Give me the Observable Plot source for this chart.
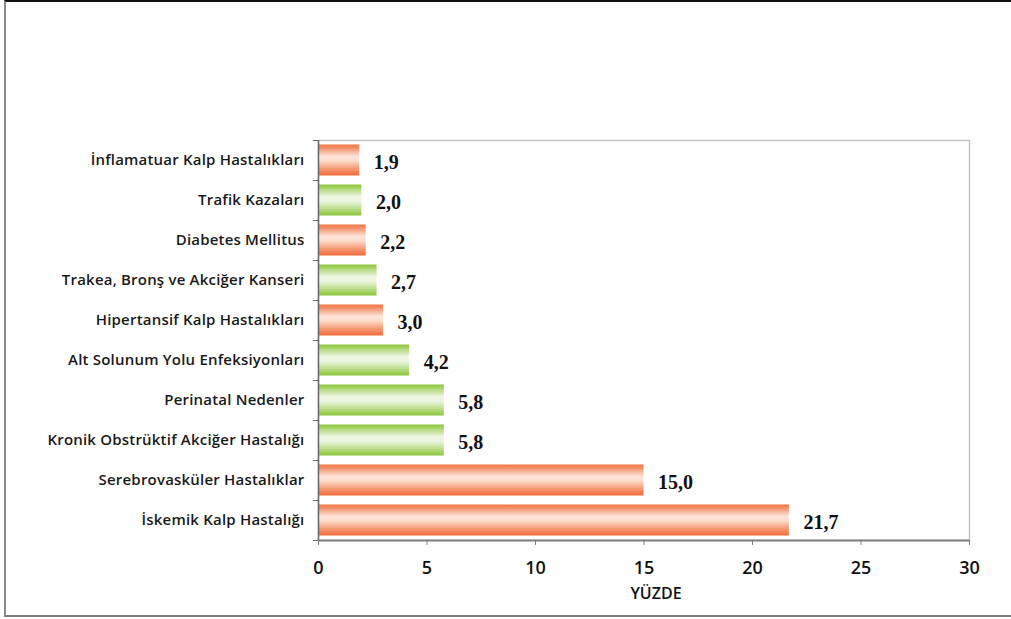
<!DOCTYPE html>
<html lang="tr">
<head>
<meta charset="utf-8">
<script src="https://cdn.jsdelivr.net/npm/d3@7"></script>
<script src="https://cdn.jsdelivr.net/npm/@observablehq/plot@0.6"></script>
<style>
  html, body { margin: 0; padding: 0; background: #fff; }
  #wrap { position: relative; width: 1011px; height: 619px; overflow: hidden; }
  #border {
    position: absolute; left: 4px; top: 0; width: 1020px; height: 613px;
    border-top: 2px solid #111; border-left: 2px solid #8a8a8a; border-bottom: 2px solid #7a7a7a;
    pointer-events: none;
  }
  #chart svg { display: block; }
  #chart g[aria-label="y-axis tick label"] text { font-weight: 600; letter-spacing: 0.2px; }
  #chart g[aria-label="x-axis tick label"] text { font-weight: 600; }
</style>
</head>
<body>
<div id="wrap">
  <div id="chart"></div>
  <div id="border"></div>
</div>
<script>
// Ölüm nedenleri, yüzde
const causes = [
  "İnflamatuar Kalp Hastalıkları",
  "Trafik Kazaları",
  "Diabetes Mellitus",
  "Trakea, Bronş ve Akciğer Kanseri",
  "Hipertansif Kalp Hastalıkları",
  "Alt Solunum Yolu Enfeksiyonları",
  "Perinatal Nedenler",
  "Kronik Obstrüktif Akciğer Hastalığı",
  "Serebrovasküler Hastalıklar",
  "İskemik Kalp Hastalığı"
];
const percents = [1.9, 2.0, 2.2, 2.7, 3.0, 4.2, 5.8, 5.8, 15.0, 21.7];
const groups = ["o", "g", "o", "g", "o", "g", "g", "g", "o", "o"];
const xTicks = [0, 5, 10, 15, 20, 25, 30];
const axisTitle = "YÜZDE";

const rows = causes.map((name, i) => ({ name, value: percents[i], group: groups[i] }));
const fmt = v => v.toFixed(1).replace(".", ",");

const chart = Plot.plot({
  width: 1011,
  height: 619,
  marginLeft: 318,
  marginRight: 42,
  marginTop: 140,
  marginBottom: 79,
  style: { fontFamily: "'Open Sans', sans-serif", fontSize: "15px", color: "#1a1a1a", background: "transparent" },
  x: { domain: [0, 30], ticks: xTicks, label: null },
  y: { domain: causes, padding: 0, label: null },
  marks: [
    Plot.frame({ stroke: "#c4c4c4", strokeWidth: 1.5 }),
    Plot.barX(rows.filter(d => d.group === "o"), {
      x: "value", y: "name", fill: "url(#gradOrange)", insetTop: 4.5, insetBottom: 4.5
    }),
    Plot.barX(rows.filter(d => d.group === "g"), {
      x: "value", y: "name", fill: "url(#gradGreen)", insetTop: 4.5, insetBottom: 4.5
    }),
    Plot.text(rows, {
      x: "value", y: "name", text: d => fmt(d.value), dx: 14, dy: 2,
      textAnchor: "start", fontFamily: "'Liberation Serif', 'Times New Roman', serif",
      fontWeight: "bold", fontSize: 20, fill: "#111"
    }),
    Plot.ruleX([0], { stroke: "#6a6a6a", strokeWidth: 1.5 }),
    Plot.ruleY([causes[causes.length - 1]], { dy: 20, stroke: "#7f7f7f", strokeWidth: 2 }),
    Plot.axisY({ tickSize: 0, tickPadding: 14, fontSize: 15, fill: "#1a1a1a", label: null }),
    Plot.axisY({ tickSize: 5, tickFormat: () => "", dy: 20, stroke: "#6a6a6a", label: null }),
    Plot.axisY({ ticks: [causes[0]], tickSize: 5, tickFormat: () => "", dy: -20, stroke: "#6a6a6a", label: null }),
    Plot.axisX({ ticks: xTicks, tickSize: 5, tickPadding: 16, fontSize: 18, fill: "#111", stroke: "#7f7f7f", label: null }),
    Plot.text([axisTitle], { frameAnchor: "bottom", dy: 58, dx: 12, fontSize: 16, fontWeight: 600, fill: "#111" })
  ]
});

// bar gradients
const defs = d3.select(chart).insert("defs", ":first-child");
function grad(id, stops) {
  const g = defs.append("linearGradient").attr("id", id)
    .attr("x1", 0).attr("y1", 0).attr("x2", 0).attr("y2", 1);
  stops.forEach(([o, c]) => g.append("stop").attr("offset", o).attr("stop-color", c));
}
grad("gradOrange", [
  [0, "#ef7446"], [0.12, "#f3916b"], [0.38, "#fde4d8"], [0.52, "#fcdccd"],
  [0.8, "#f5946d"], [1, "#ee6a3a"]
]);
grad("gradGreen", [
  [0, "#8bc43b"], [0.12, "#a9d46d"], [0.4, "#f1f8e6"], [0.55, "#eaf4dc"],
  [0.82, "#b3da7c"], [1, "#8cc63e"]
]);

document.getElementById("chart").appendChild(chart);
</script>
</body>
</html>
